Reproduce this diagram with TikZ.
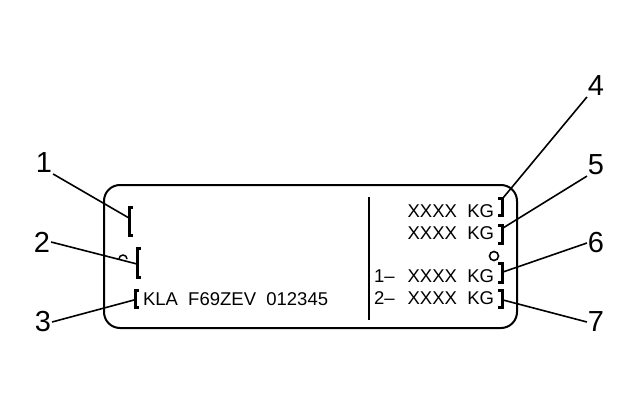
\documentclass[tikz,border=0pt]{standalone}
\usepackage{fontspec}
\setmainfont{Liberation Sans}
\usepackage{tikz}
\begin{document}
\begin{tikzpicture}[x=1pt,y=-1pt,
  num/.style={font=\fontsize{29}{29}\selectfont,inner sep=0pt},
  txt/.style={font=\fontsize{18.5}{18.5}\selectfont,inner sep=0pt},
  bkt/.style={line width=3pt},
  lead/.style={line width=1.6pt}]
\useasboundingbox (0,0) rectangle (641,407);
\tikzstyle{every path}+=[line width=2pt]
% label body
\draw [rounded corners=16] (104,185) rectangle (517,328);
\draw (369,197) -- (369,320);
% brackets left
\draw [bkt] (133,207) -- (129,207) -- (129,235) coordinate (b1) -- (133,235);
\draw [bkt] (141,248) -- (137,248) -- (137,277) coordinate (b2) -- (141,277);
\draw [line width=1.5pt] (119,259) arc (180:360:4);
\draw [bkt] (139,290) -- (135,290) -- (135,307) -- (139,307);
\coordinate (b3) at (134,300);
\node [txt,anchor=west] (vin) at (142,299) {KLA\ \ F69ZEV\ \ 012345};
% brackets right
\foreach \n/\t/\b in {4/198/215,5/225/243,6/263/282,7/290/307}{
  \draw [bkt] (498,\t) -- (502,\t) -- (502,\b) -- (498,\b);
}
\coordinate (b4) at (503,198);
\coordinate (b5) at (503,228);
\coordinate (b6) at (503,272);
\coordinate (b7) at (503,300);
\node [txt,anchor=east] (w1) at (495,211) {XXXX\ \ KG};
\node [txt,anchor=east] (w2) at (495,233) {XXXX\ \ KG};
\draw [line width=1.6pt] (494,256) circle (4.5);
\node [txt,anchor=west] (a1) at (373,276) {1--};
\node [txt,anchor=east] (w3) at (495,276) {XXXX\ \ KG};
\node [txt,anchor=west] (a2) at (373,298) {2--};
\node [txt,anchor=east] (w4) at (495,298) {XXXX\ \ KG};
% callouts
\node [num] (n1) at (44,163) {1};
\node [num] (n2) at (42,242) {2};
\node [num] (n3) at (43,322) {3};
\node [num] (n4) at (596,86) {4};
\node [num] (n5) at (596,165) {5};
\node [num] (n6) at (596,243) {6};
\node [num] (n7) at (596,322) {7};
\draw [lead] (n1.south east) -- (b1 |- 0,218);
\draw [lead] (n2.east) -- (b2 |- 0,264);
\draw [lead] (n3.east) -- (b3);
\draw [lead] (n4.south west) -- (b4);
\draw [lead] (n5.south west) -- (b5);
\draw [lead] (n6.west) -- (b6);
\draw [lead] (n7.west) -- (b7);
\end{tikzpicture}
\end{document}
